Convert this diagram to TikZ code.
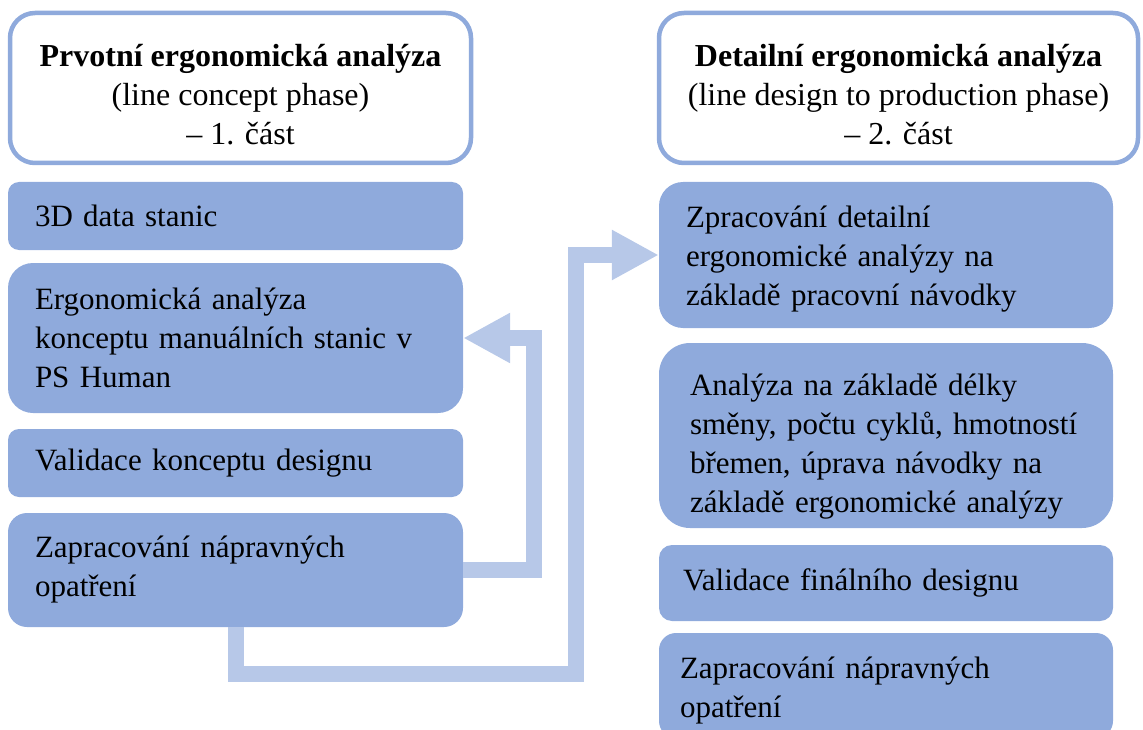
\documentclass[tikz,border=0pt]{standalone}
\usepackage{fontspec}
\setmainfont{Liberation Serif}
\usetikzlibrary{arrows.meta,calc}
\hyphenpenalty=10000
\exhyphenpenalty=10000
\definecolor{stagefill}{HTML}{8FAADC}
\definecolor{flowfill}{HTML}{B7C8E8}
\tikzset{
  headbox/.style={font=\fontsize{32}{39}\selectfont, draw=stagefill,
    line width=4.5pt, fill=white, rounded corners=25pt, align=center,
    inner sep=0pt, minimum height=150pt},
  stagebox/.style={font=\fontsize{31}{39}\selectfont,
    fill=stagefill, align=left, inner ysep=0pt},
  flow/.style={draw=flowfill, line width=16pt, line join=miter,
    -{Triangle[width=47pt,length=47pt]}},
}
\begin{document}
\begin{tikzpicture}[x=1pt,y=-1pt]
\useasboundingbox (0,0) rectangle (1143,730);
\clip (0,0) rectangle (1143,730);

% column headers
\node[headbox, minimum width=461pt] (hl) at (240.5,88)
  {\rule{0pt}{35pt}\textbf{Prvotní ergonomická analýza}\\(line concept phase)\\– 1. část};
\node[headbox, minimum width=479pt] (hr) at (898.5,88)
  {\rule{0pt}{35pt}\textbf{Detailní ergonomická analýza}\\(line design to production phase)\\– 2. část};

% first part
\node[stagebox, rounded corners=11pt, text width=401pt, inner xsep=27pt, minimum height=68pt] (d3) at (235.5,216)
  {3D data stanic};
\node[stagebox, rounded corners=25pt, text width=401pt, inner xsep=27pt, minimum height=150pt] (ergo) at (235.5,338)
  {Ergonomická analýza\\konceptu manuálních stanic v\\PS Human};
\node[stagebox, rounded corners=11pt, text width=401pt, inner xsep=27pt, minimum height=68pt] (valk) at (235.5,463)
  {Validace konceptu designu};
\node[stagebox, rounded corners=19pt, text width=401pt, inner xsep=27pt, minimum height=114pt] (zl) at (235.5,570)
  {Zapracování nápravných\\opatření};

% second part
\node[stagebox, rounded corners=24pt, text width=400pt, inner xsep=27pt, minimum height=146pt] (zp) at (886,255)
  {\rule{0pt}{30pt}Zpracování detailní\\ergonomické analýzy na\\základě pracovní návodky};
\node[stagebox, rounded corners=31pt, text width=392pt, inner xsep=31pt, minimum height=185pt] (an) at (886,435.5)
  {\rule{0pt}{44pt}Analýza na základě délky\\směny, počtu cyklů, hmotností\\břemen, úprava návodky na\\základě ergonomické analýzy};
\node[stagebox, rounded corners=13pt, text width=406pt, inner xsep=24pt, minimum height=76pt] (valf) at (886,583)
  {Validace finálního designu};
\node[stagebox, rounded corners=17pt, text width=412pt, inner xsep=21pt, minimum height=105pt] (zr) at (886,685.5)
  {\rule{0pt}{32pt}Zapracování nápravných\\opatření};

% feedback loop and hand-over to the second part
\draw[flow] (zl.east) -- ++(71,0) |- (ergo.east);
\draw[flow] (zl.south) -- ++(0,47) -| ([xshift=-83pt]zp.west) -- (zp.west);
\end{tikzpicture}
\end{document}
